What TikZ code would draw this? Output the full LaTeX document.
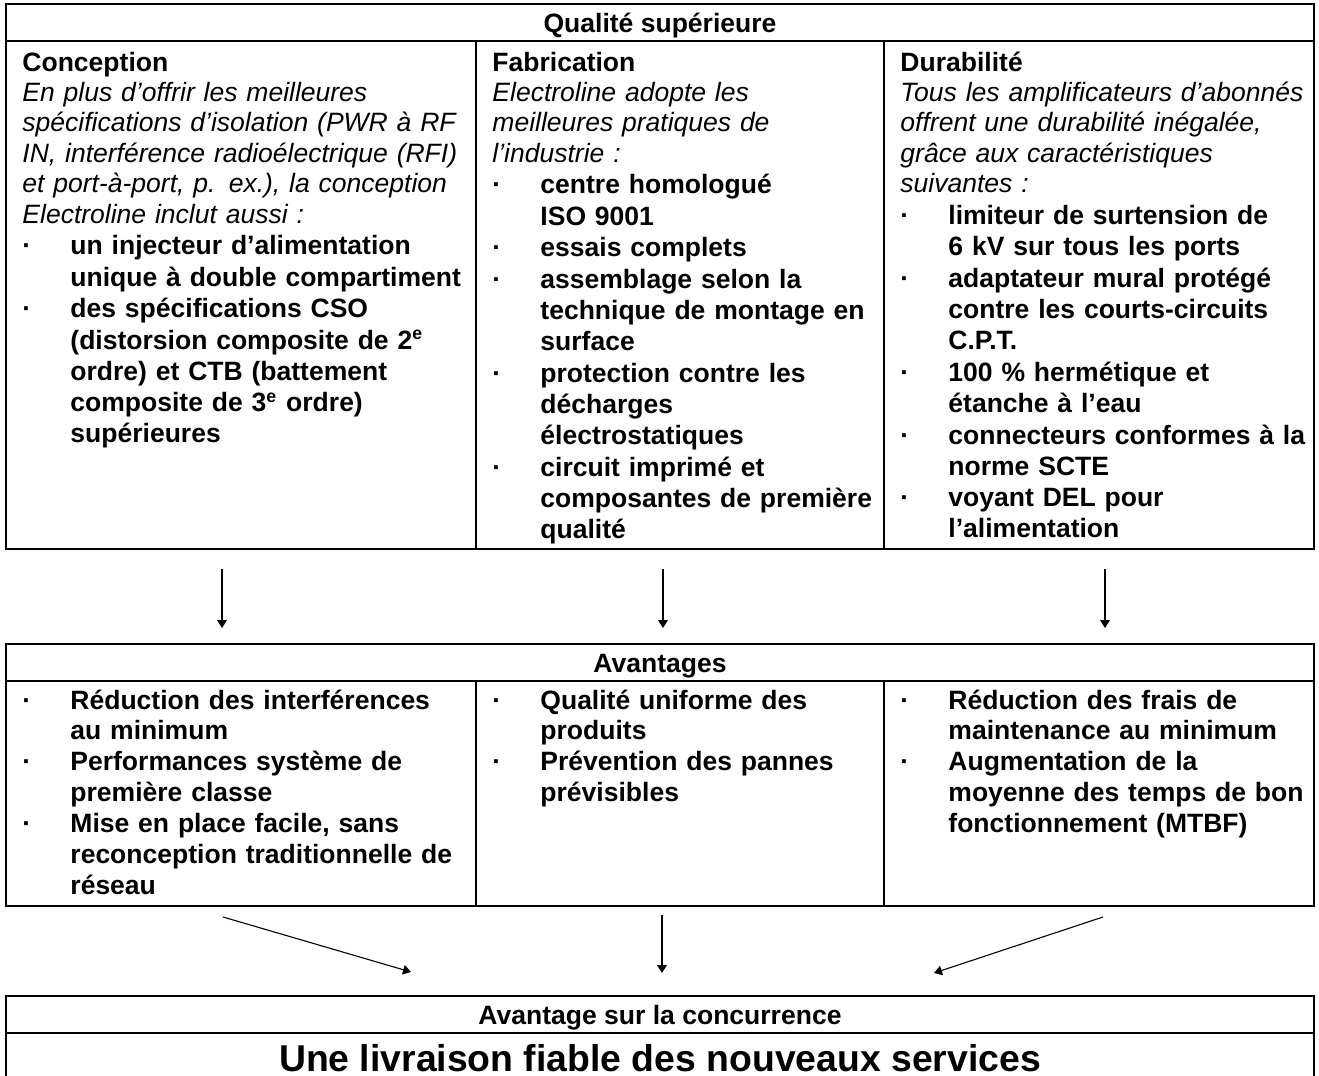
\documentclass[tikz,border=0pt]{standalone}
\usepackage{fontspec}
\setmainfont{Liberation Sans}
\usetikzlibrary{arrows.meta}
\usetikzlibrary{positioning}
\newlength\px
\setlength\px{0.4525pt}
\newcommand\puce{\makebox[48\px][l]{·}}
\newcommand\suite{\hspace*{48\px}}
\newcommand\liste{\par\fontsize{12}{14.2}\selectfont\upshape\bfseries}

\begin{document}
\begin{tikzpicture}[x=0.4525pt,y=0.4525pt,
    font=\fontsize{12}{13.8}\selectfont,
    cell/.style={draw,line width=0.9pt,inner sep=0pt,outer sep=0pt,anchor=north west},
    titre/.style={cell,minimum width=1308\px,minimum height=37\px,
      font=\fontsize{12}{13.8}\selectfont\bfseries,text height=20\px,text depth=0pt},
    texte/.style={inner sep=0pt,anchor=base west,align=left,text width=460\px},
    fleche/.style={-{Triangle[length=3.6pt,width=4.4pt]},line width=0.5pt}]

    \useasboundingbox (0,0) rectangle (1319,-1076);
    \clip (0,0) rectangle (1319,-1076);

    \node[titre] (qual) at (6,-4) {Qualité supérieure};
    \node[cell,minimum width=470\px,minimum height=508\px] (conc) at (qual.south west) {};
    \node[cell,minimum width=408\px,minimum height=508\px] (fabr) at (conc.north east) {};
    \node[cell,minimum width=430\px,minimum height=508\px] (dura) at (fabr.north east) {};

    \node[texte,xshift=16\px,yshift=-30\px] (tconc) at (conc.north west) {%
      {\bfseries Conception}\\
      \itshape En plus d’offrir les meilleures\\
      spécifications d’isolation (PWR à RF\\
      IN, interférence radioélectrique (RFI)\\
      et port-à-port, p. ex.), la conception\\
      Electroline inclut aussi :
      \liste
      \puce un injecteur d’alimentation\\
      \suite unique à double compartiment\\
      \puce des spécifications CSO\\
      \suite (distorsion composite de 2\textsuperscript{e}\\
      \suite ordre) et CTB (battement\\
      \suite composite de 3\textsuperscript{e} ordre)\\
      \suite supérieures};
    \node[texte,xshift=16\px,yshift=-30\px] (tfabr) at (fabr.north west) {%
      {\bfseries Fabrication}\\
      \itshape Electroline adopte les\\
      meilleures pratiques de\\
      l’industrie :
      \liste
      \puce centre homologué\\
      \suite ISO 9001\\
      \puce essais complets\\
      \puce assemblage selon la\\
      \suite technique de montage en\\
      \suite surface\\
      \puce protection contre les\\
      \suite décharges\\
      \suite électrostatiques\\
      \puce circuit imprimé et\\
      \suite composantes de première\\
      \suite qualité};
    \node[texte,xshift=16\px,yshift=-30\px] (tdura) at (dura.north west) {%
      {\bfseries Durabilité}\\
      \itshape Tous les amplificateurs d’abonnés\\
      offrent une durabilité inégalée,\\
      grâce aux caractéristiques\\
      suivantes :
      \liste
      \puce limiteur de surtension de\\
      \suite 6 kV sur tous les ports\\
      \puce adaptateur mural protégé\\
      \suite contre les courts-circuits\\
      \suite C.P.T.\\
      \puce 100 \% hermétique et\\
      \suite étanche à l’eau\\
      \puce connecteurs conformes à la\\
      \suite norme SCTE\\
      \puce voyant DEL pour\\
      \suite l’alimentation};

    \node[titre,yshift=-95\px] (avant) at (conc.south west) {Avantages};
    \node[cell,minimum width=470\px,minimum height=225\px] (av1) at (avant.south west) {};
    \node[cell,minimum width=408\px,minimum height=225\px] (av2) at (av1.north east) {};
    \node[cell,minimum width=430\px,minimum height=225\px] (av3) at (av2.north east) {};

    \node[texte,font=\fontsize{12}{14}\selectfont\bfseries,xshift=16\px,yshift=-28\px] (tav1) at (av1.north west) {%
      \puce Réduction des interférences\\
      \suite au minimum\\
      \puce Performances système de\\
      \suite première classe\\
      \puce Mise en place facile, sans\\
      \suite reconception traditionnelle de\\
      \suite réseau};
    \node[texte,font=\fontsize{12}{14}\selectfont\bfseries,xshift=16\px,yshift=-28\px] (tav2) at (av2.north west) {%
      \puce Qualité uniforme des\\
      \suite produits\\
      \puce Prévention des pannes\\
      \suite prévisibles};
    \node[texte,font=\fontsize{12}{14}\selectfont\bfseries,xshift=16\px,yshift=-28\px] (tav3) at (av3.north west) {%
      \puce Réduction des frais de\\
      \suite maintenance au minimum\\
      \puce Augmentation de la\\
      \suite moyenne des temps de bon\\
      \suite fonctionnement (MTBF)};

    \node[titre,yshift=-90\px] (concur) at (av1.south west) {Avantage sur la concurrence};
    \node[cell,minimum width=1308\px,minimum height=60\px] (livr) at (concur.south west) {};
    \node[anchor=base,font=\fontsize{16.9}{18}\selectfont\bfseries,yshift=-38\px] (tlivr) at (livr.north) {Une livraison fiable des nouveaux services};

    \draw[fleche] ([xshift=-19\px,yshift=-20\px]conc.south) -- ([xshift=-438\px,yshift=16\px]avant.north);
    \draw[fleche] ([xshift=-17\px,yshift=-20\px]fabr.south) -- ([xshift=3\px,yshift=16\px]avant.north);
    \draw[fleche] ([xshift=6\px,yshift=-20\px]dura.south) -- ([xshift=445\px,yshift=16\px]avant.north);

    \draw[fleche] ([xshift=-18\px,yshift=-11\px]av1.south) -- ([xshift=-249\px,yshift=24\px]concur.north);
    \draw[fleche] ([xshift=-18\px,yshift=-9\px]av2.south) -- ([xshift=2\px,yshift=23\px]concur.north);
    \draw[fleche] ([xshift=4\px,yshift=-11\px]av3.south) -- ([xshift=274\px,yshift=23\px]concur.north);

  \end{tikzpicture}
\end{document}
